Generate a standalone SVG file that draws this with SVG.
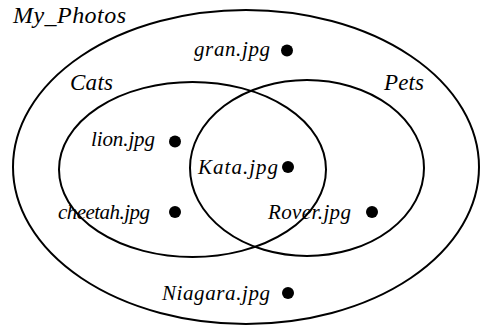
<svg xmlns="http://www.w3.org/2000/svg" width="480" height="326" viewBox="0 0 480 326">
  <style>
    .set { fill: none; stroke: #000; stroke-width: 2; }
    .title { font-family: "Liberation Serif", "Times New Roman", "DejaVu Serif", serif; font-style: italic; font-size: 23px; fill: #000; }
    .item { font-family: "Liberation Serif", "Times New Roman", "DejaVu Serif", serif; font-style: italic; font-size: 21px; fill: #000; }
    .dot { fill: #000; }
  </style>
  <rect width="480" height="326" fill="#fff"/>

  <!-- set outlines -->
  <g id="sets">
    <ellipse id="my-photos" class="set" cx="246" cy="167" rx="233" ry="157"/>
    <ellipse id="cats" class="set" cx="192.5" cy="169.5" rx="133.5" ry="87.5"/>
    <ellipse id="pets" class="set" cx="307" cy="168" rx="117" ry="88"/>
  </g>

  <!-- set names -->
  <g id="set-labels">
    <text class="title" x="13" y="23" style="font-size:24px" textLength="113">My_Photos</text>
    <text class="title" x="70" y="90" textLength="43">Cats</text>
    <text class="title" x="384" y="90" textLength="40">Pets</text>
  </g>

  <!-- members -->
  <g id="gran">
    <text class="item" x="194" y="56" textLength="76">gran.jpg</text>
    <circle class="dot" cx="287" cy="50.5" r="6"/>
  </g>
  <g id="lion">
    <text class="item" x="91" y="146" textLength="64">lion.jpg</text>
    <circle class="dot" cx="175" cy="141.5" r="6"/>
  </g>
  <g id="kata">
    <text class="item" x="198" y="174" textLength="80">Kata.jpg</text>
    <circle class="dot" cx="288" cy="167" r="6"/>
  </g>
  <g id="cheetah">
    <text class="item" x="58" y="219" textLength="92">cheetah.jpg</text>
    <circle class="dot" cx="175" cy="212" r="6"/>
  </g>
  <g id="rover">
    <text class="item" x="268" y="219" textLength="83">Rover.jpg</text>
    <circle class="dot" cx="372" cy="212" r="6"/>
  </g>
  <g id="niagara">
    <text class="item" x="162" y="300" textLength="108">Niagara.jpg</text>
    <circle class="dot" cx="288" cy="293" r="6"/>
  </g>
</svg>
